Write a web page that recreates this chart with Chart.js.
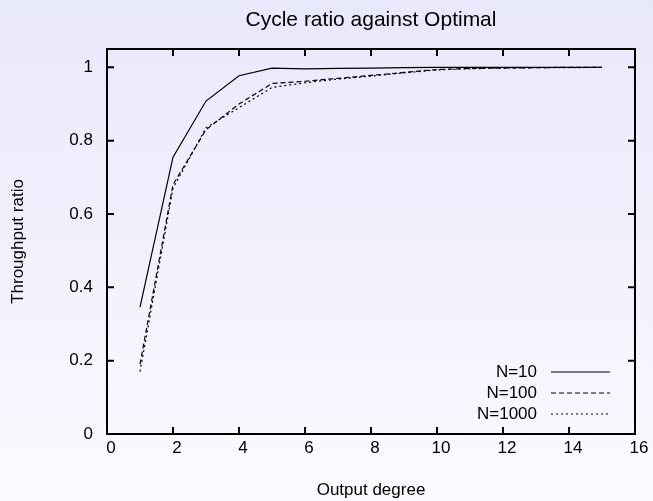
<!DOCTYPE html>
<html>
<head>
<meta charset="UTF-8">
<title>Cycle ratio against Optimal</title>
<script src="https://cdn.jsdelivr.net/npm/chart.js@4.4.1/dist/chart.umd.min.js"></script>
<style>
  html, body { margin: 0; padding: 0; }
  #wrap { width: 653px; height: 501px; }
</style>
</head>
<body>
<div id="wrap"><canvas id="ratioChart"></canvas></div>
<script>
// values
var degrees = [1, 2, 3, 4, 5, 6, 7, 8, 9, 10, 11, 12, 13, 14, 15];
var n10   = [0.346, 0.755, 0.908, 0.977, 0.998, 0.996, 0.997, 0.998, 0.999, 1.0, 1.0, 1.0, 1.0, 1.0, 1.0];
var n100  = [0.19, 0.68, 0.83, 0.90, 0.956, 0.962, 0.970, 0.978, 0.986, 0.994, 0.997, 0.998, 0.999, 1.0, 1.0];
var n1000 = [0.17, 0.67, 0.835, 0.89, 0.945, 0.958, 0.968, 0.976, 0.985, 0.993, 0.996, 0.998, 0.999, 0.999, 1.0];
var xTicks = [0, 2, 4, 6, 8, 10, 12, 14, 16];
var yTicks = [0, 0.2, 0.4, 0.6, 0.8, 1];

var FONT = "'Liberation Sans', Arial, sans-serif";
var FSIZE = 17;

function pts(ys) {
  return degrees.map(function (d, i) { return { x: d, y: ys[i] }; });
}

function line(label, ys, dash) {
  return {
    label: label,
    data: pts(ys),
    borderColor: '#000',
    borderWidth: 1.2,
    borderDash: dash,
    pointRadius: 0,
    tension: 0,
    fill: false
  };
}

// gradient page background
var bgPlugin = {
  id: 'bg',
  beforeDraw: function (chart) {
    var ctx = chart.ctx;
    var g = ctx.createLinearGradient(0, 0, 0, chart.height);
    g.addColorStop(0, '#e8e8fb');
    g.addColorStop(1, '#fafaff');
    ctx.save();
    ctx.fillStyle = g;
    ctx.fillRect(0, 0, chart.width, chart.height);
    ctx.restore();
  }
};

// gnuplot style frame: border + inward ticks on all sides, legend inside
var framePlugin = {
  id: 'frame',
  afterDraw: function (chart) {
    var ctx = chart.ctx, a = chart.chartArea;
    var xs = chart.scales.x, ys = chart.scales.y;
    var tl = 7;
    ctx.save();
    ctx.strokeStyle = '#000';
    ctx.lineWidth = 2;
    ctx.beginPath();
    xTicks.forEach(function (v) {
      var px = xs.getPixelForValue(v);
      ctx.moveTo(px, a.bottom); ctx.lineTo(px, a.bottom - tl);
      ctx.moveTo(px, a.top); ctx.lineTo(px, a.top + tl);
    });
    yTicks.forEach(function (v) {
      var py = ys.getPixelForValue(v);
      ctx.moveTo(a.left, py); ctx.lineTo(a.left + tl, py);
      ctx.moveTo(a.right, py); ctx.lineTo(a.right - tl, py);
    });
    ctx.stroke();
    ctx.strokeRect(a.left, a.top, a.right - a.left, a.bottom - a.top);

    // legend
    ctx.font = FSIZE + 'px ' + FONT;
    ctx.textAlign = 'right';
    ctx.textBaseline = 'middle';
    ctx.fillStyle = '#000';
    var textRight = a.right - 98, x0 = a.right - 84, x1 = a.right - 25;
    var y = a.bottom - 62;
    chart.data.datasets.forEach(function (ds) {
      ctx.fillText(ds.label, textRight, y);
      ctx.beginPath();
      ctx.lineWidth = ds.borderWidth;
      ctx.setLineDash(ds.borderDash);
      ctx.moveTo(x0, y); ctx.lineTo(x1, y);
      ctx.stroke();
      y += 21;
    });
    ctx.restore();
  }
};

new Chart(document.getElementById('ratioChart'), {
  type: 'line',
  data: {
    datasets: [
      line('N=10', n10, []),
      line('N=100', n100, [5, 3]),
      line('N=1000', n1000, [2, 3])
    ]
  },
  options: {
    responsive: true,
    maintainAspectRatio: false,
    animation: false,
    layout: { padding: { left: 0, right: 18, top: 0, bottom: 0 } },
    plugins: {
      legend: { display: false },
      tooltip: { enabled: false },
      title: {
        display: true,
        fullSize: false,
        text: 'Cycle ratio against Optimal',
        color: '#000',
        font: { family: FONT, size: 21, weight: 'normal' },
        padding: { top: 8, bottom: 15.8 }
      }
    },
    scales: {
      x: {
        type: 'linear',
        min: 0,
        max: 16,
        afterFit: function (s) { s.height = 67; },
        afterBuildTicks: function (s) { s.ticks = xTicks.map(function (v) { return { value: v }; }); },
        grid: { display: false, drawTicks: false },
        border: { display: false },
        ticks: { color: '#000', padding: 4, labelOffset: 4, maxRotation: 0, font: { family: FONT, size: FSIZE } },
        title: {
          display: true,
          text: 'Output degree',
          color: '#000',
          font: { family: FONT, size: FSIZE },
          padding: { top: 0, bottom: 0 }
        }
      },
      y: {
        min: 0,
        max: 1.05,
        afterFit: function (s) { s.width = 107; },
        afterBuildTicks: function (s) { s.ticks = yTicks.map(function (v) { return { value: v }; }); },
        grid: { display: false, drawTicks: false },
        border: { display: false },
        ticks: {
          color: '#000', padding: 14, font: { family: FONT, size: FSIZE },
          callback: function (v) { return String(v); }
        },
        title: {
          display: true,
          text: 'Throughput ratio',
          color: '#000',
          font: { family: FONT, size: FSIZE },
          padding: { top: 8, bottom: 0 }
        }
      }
    }
  },
  plugins: [bgPlugin, framePlugin]
});
</script>
</body>
</html>
